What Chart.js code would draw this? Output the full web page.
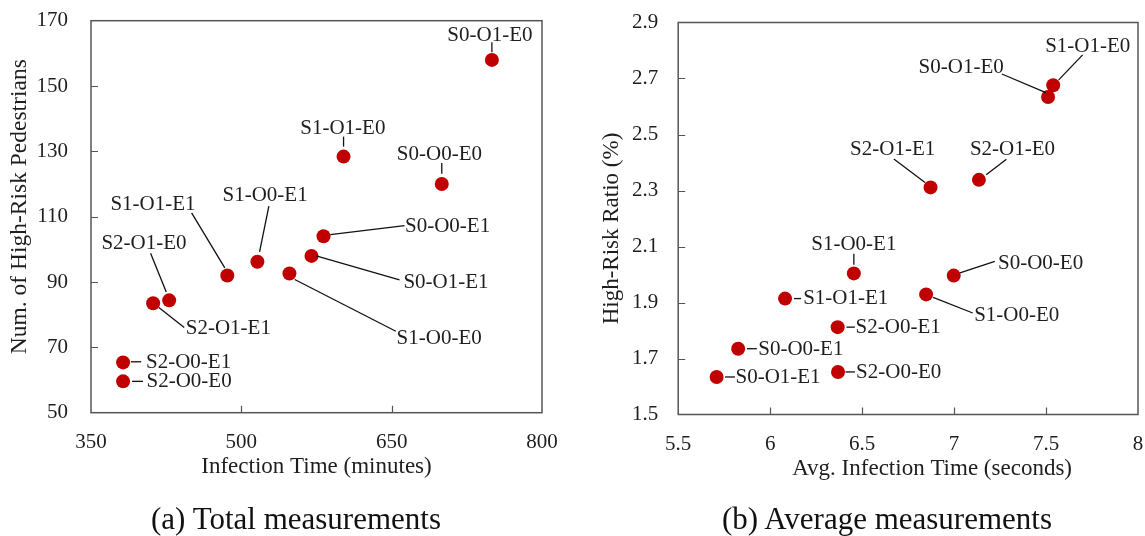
<!DOCTYPE html>
<html><head><meta charset="utf-8">
<script src="https://cdn.jsdelivr.net/npm/chart.js@4.4.1/dist/chart.umd.min.js"></script>
<style>
html,body{margin:0;padding:0;background:#fff;overflow:hidden;width:1145px;height:536px;}
#ca{position:absolute;left:0;top:0;}
#cb{position:absolute;left:570px;top:0;}
.cap{position:absolute;top:503px;font-family:"Liberation Serif",serif;font-size:31px;line-height:31px;color:#111;white-space:nowrap;transform:translateX(-50%);}
</style></head><body>
<canvas id="ca" width="570" height="536"></canvas>
<canvas id="cb" width="575" height="536"></canvas>
<div class="cap" style="left:296px">(a) Total measurements</div>
<div class="cap" style="left:887px">(b) Average measurements</div>
<script>
const categories = ['S0-O1-E0','S1-O1-E0','S0-O0-E0','S0-O0-E1','S0-O1-E1','S1-O0-E0','S1-O0-E1','S1-O1-E1','S2-O1-E0','S2-O1-E1','S2-O0-E1','S2-O0-E0'];
const totalTime = [750, 602, 700, 582, 570, 548, 516, 486, 428, 412, 382, 382];
const totalHighRisk = [158, 128.4, 120, 104, 98, 92.6, 96.2, 92, 84.4, 83.5, 65.4, 59.6];
const avgTime = [7.511, 7.539, 6.998, 5.826, 5.709, 6.848, 6.455, 6.081, 7.135, 6.872, 6.367, 6.369];
const avgRatio = [2.634, 2.676, 1.996, 1.735, 1.634, 1.929, 2.004, 1.914, 2.338, 2.311, 1.812, 1.652];
const totalXTicks = [350, 500, 650, 800];
const totalYTicks = [50, 70, 90, 110, 130, 150, 170];
const avgXTicks = [5.5, 6, 6.5, 7, 7.5, 8];
const avgYTicks = [1.5, 1.7, 1.9, 2.1, 2.3, 2.5, 2.7, 2.9];

// label layout: [text centre dx, baseline dy, leader x1, y1, x2, y2] relative to the point
const totalLabelLayout = [
  [-2,-19.3, 0,-17.6, 0,-7.6],
  [-0.7,-22.7, 0,-20, 0,-10],
  [-2.4,-23.6, 0,-21, 0,-10.3],
  [124.1,-4.4, 6.8,-1.7, 81,-10.7],
  [134.5,32.3, 4.7,0, 88,24],
  [149.7,70.3, 5.3,6, 106.4,57.7],
  [7.7,-60.6, 11.5,-55.6, 2.2,-10],
  [-74.3,-65.3, -35.7,-62.7, -2.5,-7.7],
  [-25.2,-51.7, -18.6,-47, -2.9,-8.3],
  [75.2,31, 5.7,4.3, 31.1,24.3],
  [65.5,6, 7.8,-0.6, 18.1,-0.6],
  [66,6, 9,0, 20,0]
];
const avgLabelLayout = [
  [-86.9,-23.7, -46.2,-23, -2.2,-4.3],
  [34.5,-33.6, 29.4,-30.3, 5.5,-5.3],
  [86.9,-6.7, 6.2,-2.7, 41.1,-14.3],
  [62.7,6, 8.8,0, 18.7,0],
  [61.4,6, 8.4,0, 18.3,0],
  [90.6,27, 7,3, 46.6,18.6],
  [0,-23.7, 0,-19.7, 0,-8.7],
  [60.7,5.3, 9,0, 16,0],
  [33.6,-25, 27.5,-20.7, 7.3,-5],
  [-37.9,-32.7, -36.7,-28.4, -5.5,-5],
  [60.5,5.6, 8.8,0, 17.2,0],
  [60.6,6, 7.4,0, 16.9,0]
];

const FONT = '"Liberation Serif", "Times New Roman", serif';
const TEXT = '#1e1e1e';
const AXIS = '#555555';
const DOT = '#c00000';

const framePlugin = {
  id: 'frame',
  beforeDatasetsDraw(chart) {
    const {ctx, chartArea: a, scales} = chart;
    ctx.save();
    ctx.strokeStyle = AXIS;
    ctx.lineWidth = 1.5;
    ctx.strokeRect(a.left, a.top, a.right - a.left, a.bottom - a.top);
    ctx.lineWidth = 1.2;
    ctx.beginPath();
    const xt = scales.x.ticks, yt = scales.y.ticks;
    for (let i = 1; i < xt.length - 1; i++) {
      const px = Math.round(scales.x.getPixelForValue(xt[i].value)) + 0.5;
      ctx.moveTo(px, a.bottom); ctx.lineTo(px, a.bottom - 7);
    }
    for (let i = 1; i < yt.length - 1; i++) {
      const py = Math.round(scales.y.getPixelForValue(yt[i].value)) + 0.5;
      ctx.moveTo(a.left, py); ctx.lineTo(a.left + 7, py);
    }
    ctx.stroke();
    ctx.restore();
  }
};

const labelPlugin = {
  id: 'ptlabels',
  afterDatasetsDraw(chart, args, opts) {
    const {ctx} = chart;
    const meta = chart.getDatasetMeta(0);
    const layout = opts.layout;
    ctx.save();
    ctx.font = '21px ' + FONT;
    ctx.fillStyle = TEXT;
    ctx.strokeStyle = '#111';
    ctx.lineWidth = 1.3;
    ctx.textAlign = 'center';
    ctx.textBaseline = 'alphabetic';
    meta.data.forEach((el, i) => {
      const L = layout[i];
      ctx.beginPath();
      ctx.moveTo(el.x + L[2], el.y + L[3]);
      ctx.lineTo(el.x + L[4], el.y + L[5]);
      ctx.stroke();
      ctx.fillText(categories[i], el.x + L[0], el.y + L[1]);
    });
    const a = chart.chartArea;
    if (opts.xTitle) {
      ctx.font = '23px ' + FONT;
      ctx.fillText(opts.xTitle, (a.left + a.right) / 2 + opts.xTitleShift, opts.xTitleBaseline);
    }
    if (opts.yTitle) {
      ctx.font = opts.yTitleSize + 'px ' + FONT;
      ctx.translate(opts.yTitleX, (a.top + a.bottom) / 2 + opts.yTitleShift);
      ctx.rotate(-Math.PI / 2);
      ctx.textBaseline = 'middle';
      ctx.fillText(opts.yTitle, 0, 0);
    }
    ctx.restore();
  }
};

function zeroPad(s) { s.paddingLeft = 0; s.paddingRight = 0; s.paddingTop = 0; s.paddingBottom = 0; }

function makeChart(id, xs, ys, xTicks, yTicks, cfg) {
  const pts = xs.map((x, i) => ({x: x, y: ys[i]}));
  return new Chart(document.getElementById(id), {
    type: 'scatter',
    data: {datasets: [{data: pts, backgroundColor: DOT, borderColor: DOT, borderWidth: 0, pointRadius: 7, pointHoverRadius: 7}]},
    options: {
      responsive: false,
      animation: false,
      devicePixelRatio: 1,
      layout: {padding: cfg.padding},
      plugins: {
        legend: {display: false},
        tooltip: {enabled: false},
        ptlabels: {layout: cfg.labelLayout, xTitle: cfg.customXTitle, xTitleShift: cfg.xTitleShift, xTitleBaseline: 475,
                   yTitle: cfg.yTitle, yTitleX: cfg.yTitleX, yTitleShift: cfg.yTitleShift, yTitleSize: cfg.yTitleSize}
      },
      scales: {
        x: {
          type: 'linear', min: xTicks[0], max: xTicks[xTicks.length - 1],
          afterBuildTicks: s => { s.ticks = xTicks.map(v => ({value: v})); },
          afterFit: s => { s.height = cfg.xHeight; zeroPad(s); },
          grid: {display: false, drawTicks: false},
          border: {display: false},
          ticks: {padding: 17, color: TEXT, font: {family: FONT, size: 21}, callback: v => String(v), maxRotation: 0, autoSkip: false},
          title: {display: !cfg.customXTitle, text: cfg.xTitle, color: TEXT, font: {family: FONT, size: 23}, padding: {top: 0, bottom: 55}}
        },
        y: {
          type: 'linear', min: yTicks[0], max: yTicks[yTicks.length - 1],
          afterBuildTicks: s => { s.ticks = yTicks.map(v => ({value: v})); },
          afterFit: s => { s.width = cfg.yWidth; zeroPad(s); },
          grid: {display: false, drawTicks: false},
          border: {display: false},
          ticks: {padding: cfg.yTickPad, color: TEXT, font: {family: FONT, size: 21}, callback: v => String(v), autoSkip: false},
          title: {display: false}
        }
      }
    },
    plugins: [framePlugin, labelPlugin]
  });
}

makeChart('ca', totalTime, totalHighRisk, totalXTicks, totalYTicks, {
  padding: {top: 20.7, right: 28, bottom: 0, left: 0},
  xHeight: 123.3, yWidth: 91, yTickPad: 23,
  xTitle: 'Infection Time (minutes)',
  yTitle: 'Num. of High-Risk Pedestrians', yTitleX: 20.3, yTitleShift: -10, yTitleSize: 23.5,
  labelLayout: totalLabelLayout
});
makeChart('cb', avgTime, avgRatio, avgXTicks, avgYTicks, {
  padding: {top: 22.5, right: 5.8, bottom: 0, left: 0},
  xHeight: 121.5, yWidth: 108.2, yTickPad: 20,
  xTitle: 'Avg. Infection Time (seconds)', customXTitle: 'Avg. Infection Time (seconds)', xTitleShift: 24,
  yTitle: 'High-Risk Ratio (%)', yTitleX: 42.3, yTitleShift: 10, yTitleSize: 23,
  labelLayout: avgLabelLayout
});
</script>
</body></html>
